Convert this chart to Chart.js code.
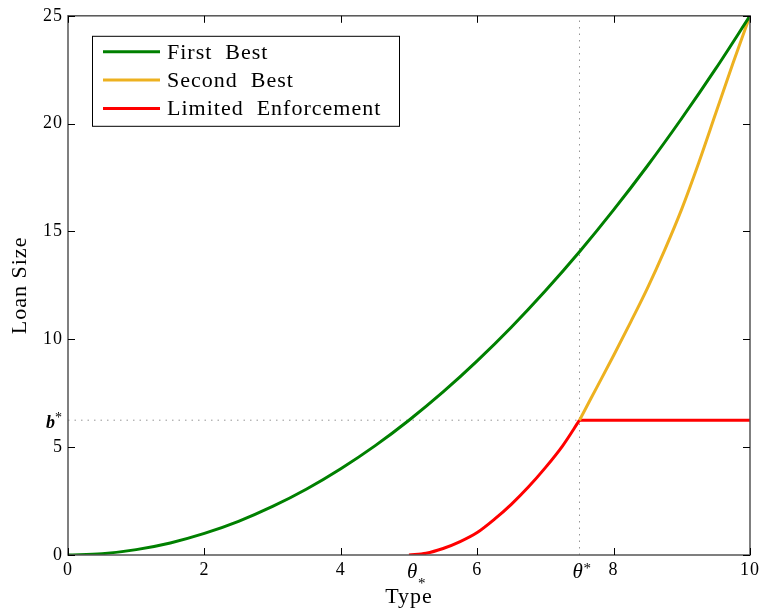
<!DOCTYPE html>
<html>
<head>
<meta charset="utf-8">
<script src="https://cdn.jsdelivr.net/npm/chart.js@4.4.1/dist/chart.umd.min.js"></script>
<style>
html, body { margin: 0; padding: 0; background: #fff; }
#wrap { width: 763px; height: 610px; }
</style>
</head>
<body>
<div id="wrap"><canvas id="chart-loan"></canvas></div>
<script>
/* data */
var type_first = [0, 0.5, 1, 1.5, 2, 2.5, 3, 3.5, 4, 4.5, 5, 5.5, 6, 6.5, 7, 7.5, 8, 8.5, 9, 9.5, 10];
var loan_first = [0, 0.06, 0.25, 0.56, 1.0, 1.56, 2.25, 3.06, 4.0, 5.06, 6.25, 7.56, 9.0, 10.56, 12.25, 14.06, 16.0, 18.06, 20.25, 22.56, 25];

var type_second = [7.5, 7.75, 8, 8.25, 8.5, 8.75, 9, 9.25, 9.5, 9.75, 10];
var loan_second = [6.25, 7.75, 9.25, 10.8, 12.4, 14.15, 16.05, 18.2, 20.5, 22.8, 25];

var type_limited = [5.0, 5.25, 5.5, 5.75, 6, 6.25, 6.5, 6.75, 7, 7.25, 7.5, 8, 9, 10];
var loan_limited = [0, 0.08, 0.3, 0.62, 1.04, 1.65, 2.35, 3.15, 4.05, 5.05, 6.25, 6.25, 6.25, 6.25];

var theta_low = 5.0;
var theta_star = 7.5;
var b_star = 6.25;

var x_ticks = [0, 2, 4, 6, 8, 10];
var y_ticks = [0, 5, 10, 15, 20, 25];

var series_labels = ['First  Best', 'Second  Best', 'Limited  Enforcement'];
var series_colors = ['rgb(0, 128, 0)', 'rgb(237, 177, 32)', 'rgb(255, 0, 0)'];

var serif = "'Liberation Serif', 'Times New Roman', serif";

function to_points(xs, ys, keep) {
	var pts = [];
	for (var i = 0; i < xs.length; i++) {
		if (!keep || keep(xs[i])) pts.push({x: xs[i], y: ys[i]});
	}
	return pts;
}

function curve(label, pts, color) {
	return {
		label: label,
		data: pts,
		borderColor: color,
		backgroundColor: color,
		borderWidth: 3,
		pointRadius: 0,
		cubicInterpolationMode: 'monotone',
		fill: false
	};
}

function guide(xs, ys) {
	return {
		label: '',
		data: to_points(xs, ys),
		borderColor: 'rgb(150, 150, 150)',
		borderWidth: 1,
		borderDash: [1.5, 5],
		pointRadius: 0,
		fill: false
	};
}

/* Limited Enforcement: rising part and flat part, so the kink at theta* stays sharp */
var limited_rise = to_points(type_limited, loan_limited, function (x) { return x <= theta_star; });
var limited_flat = to_points(type_limited, loan_limited, function (x) { return x >= theta_star; });

var spacing_plugin = {
	id: 'spacing',
	beforeDraw: function (chart) {
		chart.ctx.letterSpacing = '1px';
	}
};

/* frame, inward ticks, theta / b labels and the boxed legend */
var decor_plugin = {
	id: 'decor',
	afterDraw: function (chart) {
		var ctx = chart.ctx;
		var ca = chart.chartArea;
		var sx = chart.scales.x;
		var sy = chart.scales.y;
		ctx.save();

		ctx.strokeStyle = '#555';
		ctx.lineWidth = 1.5;
		ctx.strokeRect(ca.left, ca.top, ca.right - ca.left, ca.bottom - ca.top);

		ctx.strokeStyle = '#000';
		ctx.lineWidth = 1;
		ctx.beginPath();
		x_ticks.forEach(function (v) {
			var px = Math.round(sx.getPixelForValue(v)) + 0.5;
			ctx.moveTo(px, ca.bottom); ctx.lineTo(px, ca.bottom - 7);
			ctx.moveTo(px, ca.top); ctx.lineTo(px, ca.top + 7);
		});
		y_ticks.forEach(function (v) {
			var py = Math.round(sy.getPixelForValue(v)) + 0.5;
			ctx.moveTo(ca.left, py); ctx.lineTo(ca.left + 7, py);
			ctx.moveTo(ca.right, py); ctx.lineTo(ca.right - 7, py);
		});
		ctx.stroke();

		/* theta_* , theta^* and b^* */
		ctx.letterSpacing = '0px';
		ctx.fillStyle = '#000';
		ctx.textBaseline = 'alphabetic';
		ctx.textAlign = 'left';
		var px1 = sx.getPixelForValue(theta_low);
		ctx.font = 'italic 21px ' + serif;
		ctx.fillText('\u03b8', px1 - 2, 578);
		ctx.font = '15px ' + serif;
		ctx.fillText('*', px1 + 9, 588);

		var px2 = sx.getPixelForValue(theta_star);
		ctx.font = 'italic 21px ' + serif;
		ctx.fillText('\u03b8', px2 - 7, 578);
		ctx.font = '15px ' + serif;
		ctx.fillText('*', px2 + 4, 573);

		var py = sy.getPixelForValue(b_star);
		ctx.font = 'italic bold 18px ' + serif;
		ctx.fillText('b', 46, py + 8);
		ctx.font = '14px ' + serif;
		ctx.fillText('*', 55, py + 2);

		/* legend */
		var lx = ca.left + 24, ly = ca.top + 20, lw = 307, lh = 90;
		ctx.fillStyle = '#fff';
		ctx.fillRect(lx, ly, lw, lh);
		ctx.strokeStyle = '#000';
		ctx.lineWidth = 1;
		ctx.strokeRect(lx + 0.5, ly + 0.5, lw, lh);
		ctx.letterSpacing = '1px';
		ctx.font = '22px ' + serif;
		ctx.textBaseline = 'middle';
		for (var i = 0; i < series_labels.length; i++) {
			var ry = ly + 16 + i * 28.3;
			ctx.strokeStyle = series_colors[i];
			ctx.lineWidth = 3;
			ctx.beginPath();
			ctx.moveTo(lx + 11, ry);
			ctx.lineTo(lx + 68, ry);
			ctx.stroke();
			ctx.fillStyle = '#000';
			ctx.fillText(series_labels[i], lx + 75, ry + 1);
		}
		ctx.restore();
	}
};

var ctx_loan = document.getElementById('chart-loan').getContext('2d');
new Chart(ctx_loan, {
	type: 'line',
	data: {
		datasets: [
			curve(series_labels[0], to_points(type_first, loan_first), series_colors[0]),
			curve(series_labels[1], to_points(type_second, loan_second), series_colors[1]),
			curve(series_labels[2], limited_rise, series_colors[2]),
			curve(series_labels[2], limited_flat, series_colors[2]),
			guide([theta_star, theta_star], [0, 25]),
			guide([0, theta_star], [b_star, b_star])
		]
	},
	options: {
		responsive: true,
		maintainAspectRatio: false,
		animation: false,
		layout: {
			padding: {top: 15, right: 11, left: 0, bottom: 0}
		},
		plugins: {
			legend: {display: false},
			tooltip: {enabled: false}
		},
		scales: {
			x: {
				type: 'linear',
				min: 0,
				max: 10,
				afterBuildTicks: function (scale) {
					scale.ticks = x_ticks.map(function (v) { return {value: v}; });
				},
				afterFit: function (scale) { scale.height = 55; },
				grid: {display: false, drawTicks: false},
				border: {display: false},
				ticks: {
					maxRotation: 0,
					autoSkip: false,
					padding: 4,
					color: '#000',
					font: {family: serif, size: 18}
				},
				title: {
					display: true,
					text: 'Type',
					color: '#000',
					font: {family: serif, size: 22},
					padding: {top: 0, bottom: 0}
				}
			},
			y: {
				type: 'linear',
				min: 0,
				max: 25,
				afterBuildTicks: function (scale) {
					scale.ticks = y_ticks.map(function (v) { return {value: v}; });
				},
				afterFit: function (scale) { scale.width = 68; },
				grid: {display: false, drawTicks: false},
				border: {display: false},
				ticks: {
					padding: 5,
					color: '#000',
					font: {family: serif, size: 18}
				},
				title: {
					display: true,
					text: 'Loan Size',
					color: '#000',
					font: {family: serif, size: 22},
					padding: {top: 7, bottom: 0}
				}
			}
		}
	},
	plugins: [spacing_plugin, decor_plugin]
});
</script>
</body>
</html>
